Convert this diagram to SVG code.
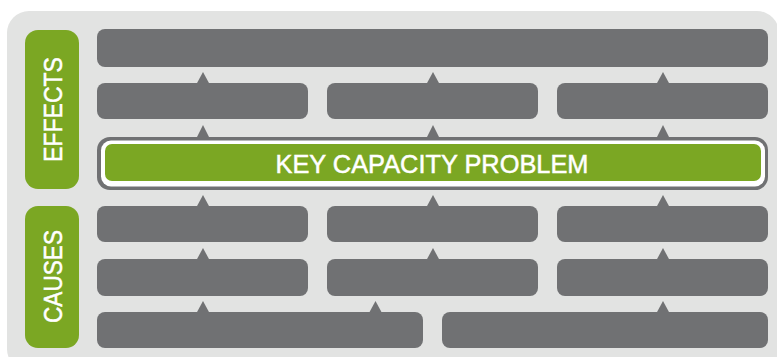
<svg xmlns="http://www.w3.org/2000/svg" width="777" height="357" viewBox="0 0 777 357">
<style>
.bg{fill:#e2e3e2}
.box{fill:#707173}
.lab{fill:#7ba723}
.arr{fill:#707173}
.t{fill:#ffffff;stroke:#ffffff;stroke-width:0.5;font-family:"Liberation Sans",Arial,sans-serif;text-anchor:middle}
</style>
<rect class="bg" x="7" y="11" width="772" height="360" rx="22"/>
<g id="effects-label">
<rect class="lab" x="25" y="30" width="54" height="159" rx="13"/>
<text class="t" font-size="26" transform="translate(62,109.5) rotate(-90)" textLength="105" lengthAdjust="spacingAndGlyphs">EFFECTS</text>
</g>
<g id="causes-label">
<rect class="lab" x="25" y="206" width="54" height="142" rx="13"/>
<text class="t" font-size="26" transform="translate(62,276.5) rotate(-90)" textLength="93" lengthAdjust="spacingAndGlyphs">CAUSES</text>
</g>
<g id="connectors">
<path class="arr" d="M203,72 L209.5,84 L196.5,84 Z"/>
<path class="arr" d="M433,72 L439.5,84 L426.5,84 Z"/>
<path class="arr" d="M663,72 L669.5,84 L656.5,84 Z"/>
<path class="arr" d="M203,125 L209.5,138 L196.5,138 Z"/>
<path class="arr" d="M433,125 L439.5,138 L426.5,138 Z"/>
<path class="arr" d="M663,125 L669.5,138 L656.5,138 Z"/>
<path class="arr" d="M203,195 L209.5,207 L196.5,207 Z"/>
<path class="arr" d="M433,195 L439.5,207 L426.5,207 Z"/>
<path class="arr" d="M663,195 L669.5,207 L656.5,207 Z"/>
<path class="arr" d="M203,248 L209.5,260 L196.5,260 Z"/>
<path class="arr" d="M433,248 L439.5,260 L426.5,260 Z"/>
<path class="arr" d="M663,248 L669.5,260 L656.5,260 Z"/>
<path class="arr" d="M203,301 L209.5,313 L196.5,313 Z"/>
<path class="arr" d="M375.5,301 L382,313 L369,313 Z"/>
<path class="arr" d="M663,301 L669.5,313 L656.5,313 Z"/>
</g>
<g id="effect-top"><rect class="box" x="97" y="29" width="671" height="38" rx="8"/></g>
<g id="effect-1"><rect class="box" x="97" y="83" width="211" height="36" rx="8"/></g>
<g id="effect-2"><rect class="box" x="327" y="83" width="211" height="36" rx="8"/></g>
<g id="effect-3"><rect class="box" x="557" y="83" width="211" height="36" rx="8"/></g>
<g id="key-problem">
<rect class="box" x="97" y="137" width="671" height="53" rx="13"/>
<rect fill="#ffffff" x="101" y="140.5" width="664" height="46" rx="10"/>
<rect class="lab" x="105" y="144" width="656" height="37" rx="7"/>
<text class="t" font-size="25.5" x="432" y="173" textLength="313" lengthAdjust="spacingAndGlyphs">KEY CAPACITY PROBLEM</text>
</g>
<g id="cause-1a"><rect class="box" x="97" y="206" width="211" height="36" rx="8"/></g>
<g id="cause-1b"><rect class="box" x="327" y="206" width="211" height="36" rx="8"/></g>
<g id="cause-1c"><rect class="box" x="557" y="206" width="211" height="36" rx="8"/></g>
<g id="cause-2a"><rect class="box" x="97" y="259" width="211" height="37" rx="8"/></g>
<g id="cause-2b"><rect class="box" x="327" y="259" width="211" height="37" rx="8"/></g>
<g id="cause-2c"><rect class="box" x="557" y="259" width="211" height="37" rx="8"/></g>
<g id="cause-3a"><rect class="box" x="97" y="312" width="326" height="36" rx="8"/></g>
<g id="cause-3b"><rect class="box" x="442" y="312" width="326" height="36" rx="8"/></g>
</svg>
